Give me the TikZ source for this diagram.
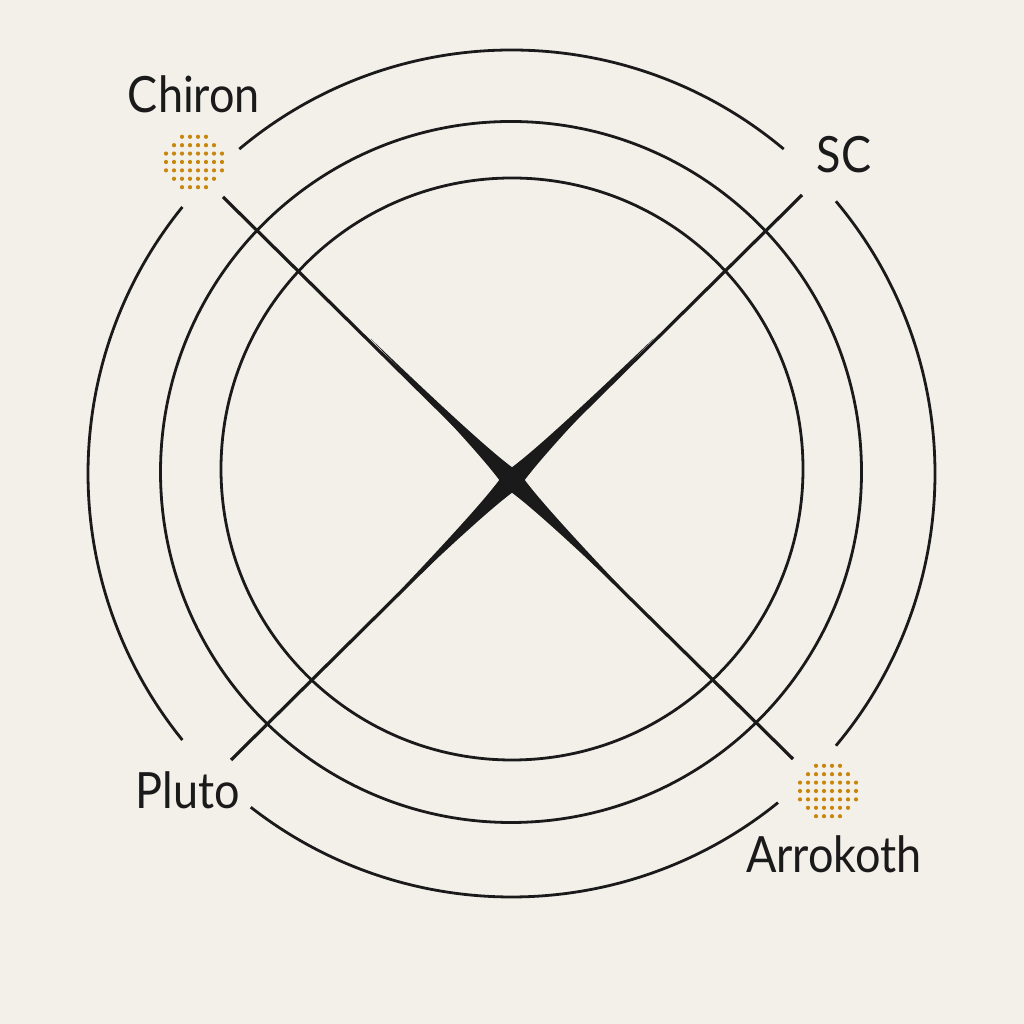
\documentclass[tikz,border=0pt]{standalone}
\usepackage{fontspec}
\setmainfont[FakeStretch=0.9]{Lato}
\definecolor{paper}{HTML}{F3F0EA}
\definecolor{ink}{HTML}{1A1A1A}
\definecolor{ochre}{HTML}{C7860C}
\tikzset{
  ring/.style={draw=ink, line width=2.8pt},
  ray/.style={draw=ink, line width=3.2pt},
  body/.style={font=\fontsize{50}{50}\selectfont, text=ink, anchor=base, inner sep=0pt},
}
\newcommand{\dotball}[1]{%
  \foreach \i in {-3,...,3}
    \foreach \j in {-4,...,3}{
      \pgfmathsetmacro\dx{(\j+0.5)*8}
      \pgfmathsetmacro\dy{\i*8.4}
      \pgfmathsetmacro\dd{veclen(\dx,\dy)}
      \ifdim\dd pt<29.5pt \fill[ochre] ([shift={(\dx,\dy)}]#1) circle (2.1pt);\fi
    }}
\begin{document}
\begin{tikzpicture}[x=1pt, y=1pt]
\fill[paper] (0,0) rectangle (1024,1024);
\useasboundingbox (0,0) rectangle (1024,1024);
\coordinate (ci) at (512,555);
\coordinate (cm) at (511,552);
\coordinate (co) at (511.5,550.5);
\coordinate (x) at (512,544);
\coordinate (nw) at (223,827);
\coordinate (ne) at (802,829);
\coordinate (sw) at (231,264);
\coordinate (se) at (793,265);
\draw[ring] (ci) circle (291pt);
\draw[ring] (cm) circle (350.5pt);
\draw[ring] (co) ++(50:423.5pt) arc[start angle=50, end angle=130, radius=423.5pt];
\draw[ring] (co) ++(141:423.5pt) arc[start angle=141, end angle=219, radius=423.5pt];
\draw[ring] (co) ++(232:423.5pt) arc[start angle=232, end angle=309, radius=423.5pt];
\draw[ring] (co) ++(-40:423.5pt) arc[start angle=-40, end angle=40, radius=423.5pt];
\draw[ray] (nw) -- (se);
\draw[ray] (ne) -- (sw);
\foreach \a in {45,135,225,315}
  \fill[ink, shift={(x)}, rotate=\a] (9,-9) .. controls (40,-4.5) and (110,-2) .. (200,0)
    .. controls (110,2) and (40,4.5) .. (9,9) -- (0,0) -- cycle;
\coordinate (chiron) at (194,862);
\coordinate (arrokoth) at (828,233);
\dotball{chiron}
\dotball{arrokoth}
\node[body] (lchiron) at (194,911) {Chiron};
\node[body] (lsc) at (844,851) {SC};
\node[body] (lpluto) at (188,215) {Pluto};
\node[body] (larrokoth) at (834,151) {Arrokoth};
\end{tikzpicture}
\end{document}
